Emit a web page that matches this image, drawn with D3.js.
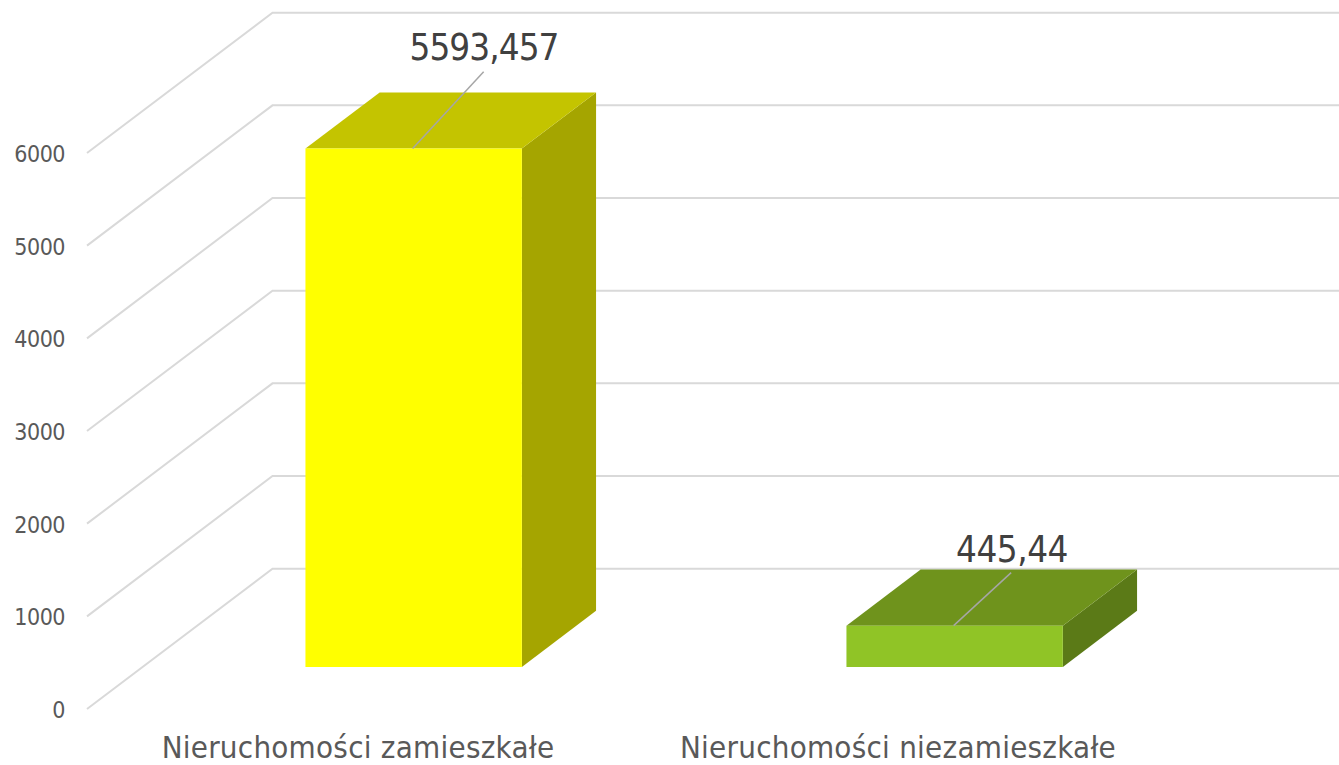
<!DOCTYPE html>
<html><head><meta charset="utf-8">
<script src="https://cdn.jsdelivr.net/npm/d3@7"></script>
<style>html,body{margin:0;padding:0;background:#fff;overflow:hidden}
text{font-family:"DejaVu Sans",sans-serif;font-stretch:condensed}</style></head>
<body><svg id="c" width="1339" height="765"></svg>
<script>
const categories = ["Nieruchomości zamieszkałe", "Nieruchomości niezamieszkałe"];
const values = [5593.457, 445.44];
const valueLabels = ["5593,457", "445,44"];
const tickValues = [0, 1000, 2000, 3000, 4000, 5000, 6000];
const faceColors = ["#FFFF00", "#90C426"];
const topColors = ["#C4C400", "#6F931C"];
const sideColors = ["#A5A500", "#5B7A17"];

const svg = d3.select("#c");
const y = d3.scaleLinear().domain([0, 6000]).range([709, 153]);
const x = d3.scaleBand().domain(categories).range([87.5, 1169.5]).paddingInner(0.6).paddingOuter(0.3);
const depth = d3.scaleLinear().domain([0, 1]);
const dx = depth.copy().range([0, 185.5]);
const dy = depth.copy().range([0, 140.3]);
const P = (px, v, z) => [px + dx(z), y(v) - dy(z)];
const line = d3.line();
const zFront = 0.3, zBack = 0.7;

// gridlines: floor/wall on the left, then along back wall
svg.append("g").selectAll("path").data(tickValues).join("path")
  .attr("d", t => line([P(87, t, 0), P(87, t, 1), P(1169, t, 1)]))
  .attr("fill", "none").attr("stroke", "#D9D9D9").attr("stroke-width", 2);

// y tick labels
svg.append("g").selectAll("text").data(tickValues).join("text")
  .attr("x", 65).attr("y", t => y(t) + 9)
  .attr("text-anchor", "end").attr("font-size", 23).attr("letter-spacing", -0.5)
  .attr("fill", "#595959").text(t => t);

// bars
const bars = svg.append("g").selectAll("g").data(categories).join("g");
bars.append("path").attr("fill", (d, i) => sideColors[i]).attr("d", (d, i) => {
  const r = x(d) + x.bandwidth();
  return line([P(r, 0, zFront), P(r, values[i], zFront), P(r, values[i], zBack), P(r, 0, zBack)]) + "Z";
});
bars.append("path").attr("fill", (d, i) => topColors[i]).attr("d", (d, i) => {
  const l = x(d), r = l + x.bandwidth();
  return line([P(l, values[i], zFront), P(r, values[i], zFront), P(r, values[i], zBack), P(l, values[i], zBack)]) + "Z";
});
bars.append("path").attr("fill", (d, i) => faceColors[i]).attr("d", (d, i) => {
  const l = x(d), r = l + x.bandwidth();
  return line([P(l, 0, zFront), P(r, 0, zFront), P(r, values[i], zFront), P(l, values[i], zFront)]) + "Z";
});

// leaders and labels
const leaderDx = [71, 57.5], leaderDy = [76.8, 53], labelX = [484, 1012], labelUp = [11.5, 11], labelTrack = [-0.95, -0.5];
bars.append("path").attr("fill", "none").attr("stroke", "#A6A6A6").attr("stroke-width", 1.5).attr("d", (d, i) => {
  const a = P(x(d) + x.bandwidth() / 2 - 1, values[i], zFront);
  return line([a, [a[0] + leaderDx[i], a[1] - leaderDy[i]]]);
});
bars.append("text").attr("text-anchor", "middle").attr("fill", "#404040")
  .attr("font-size", 36.5).attr("letter-spacing", (d, i) => labelTrack[i])
  .attr("x", (d, i) => labelX[i])
  .attr("y", (d, i) => P(0, values[i], zFront)[1] - leaderDy[i] - labelUp[i])
  .text((d, i) => valueLabels[i]);

// category labels
svg.append("g").selectAll("text").data(categories).join("text")
  .attr("text-anchor", "middle").attr("font-size", 31).attr("letter-spacing", 0.25).attr("fill", "#595959")
  .attr("x", (d, i) => [358, 898][i]).attr("y", 758).text(d => d);
</script></body></html>
